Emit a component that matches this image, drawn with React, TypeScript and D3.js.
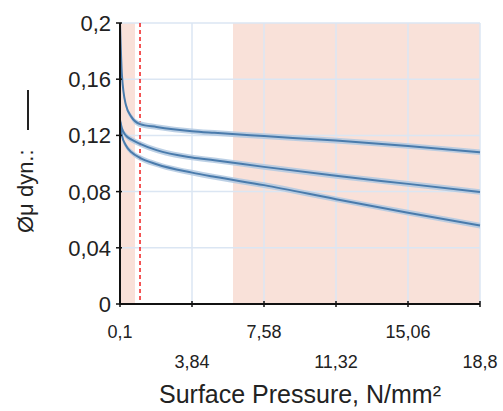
import React from "react";
import * as d3 from "d3";

const xTicks = [0.1, 3.84, 7.58, 11.32, 15.06, 18.8];
const xTickLabels = ["0,1", "3,84", "7,58", "11,32", "15,06", "18,8"];
const yTicks = [0, 0.04, 0.08, 0.12, 0.16, 0.2];
const yTickLabels = ["0", "0,04", "0,08", "0,12", "0,16", "0,2"];

const xs = [0.1, 0.2, 0.4, 0.7, 1.14, 2, 3.84, 5, 7.58, 11.32, 15.06, 18.8];
const seriesTop = [0.2, 0.163, 0.142, 0.133, 0.128, 0.126, 0.123, 0.1218, 0.1195, 0.1163, 0.1125, 0.108];
const seriesMid = [0.131, 0.125, 0.12, 0.117, 0.114, 0.1095, 0.1043, 0.1023, 0.0976, 0.0912, 0.0855, 0.0797];
const seriesLow = [0.13, 0.12, 0.113, 0.108, 0.104, 0.0995, 0.0935, 0.0905, 0.0846, 0.0746, 0.065, 0.0558];
const bandHalf = 0.002;

const pinkRegions: [number, number][] = [[0.1, 0.88], [5.97, 18.8]];
const redLineX = 1.14;

const xTitle = "Surface Pressure, N/mm²";
const yTitle = "Øμ dyn.:";

export default function App() {
  const W = 503, H = 411;
  const x = d3.scaleLinear().domain([0.1, 18.8]).range([120, 480]);
  const y = d3.scaleLinear().domain([0, 0.2]).range([304, 23]);
  const font = "Liberation Sans, Arial, sans-serif";

  const line = d3.line<[number, number]>().x(d => x(d[0])).y(d => y(d[1])).curve(d3.curveMonotoneX);
  const area = d3.area<[number, number]>().x(d => x(d[0])).y0(d => y(d[1] - bandHalf)).y1(d => y(d[1] + bandHalf)).curve(d3.curveMonotoneX);
  const all = [seriesTop, seriesMid, seriesLow];

  return (
    <svg width={W} height={H} style={{ position: "absolute", left: 0, top: 0 }} fontFamily={font}>
      <rect width={W} height={H} fill="#fff" />
      {pinkRegions.map(([a, b], i) => (
        <rect key={i} x={x(a)} y={y(0.2)} width={x(b) - x(a)} height={y(0) - y(0.2)} fill="#f9e1d9" />
      ))}
      {xTicks.map((t, i) => (
        <line key={"gx" + i} x1={x(t)} x2={x(t)} y1={y(0)} y2={y(0.2)} stroke="#dbe6f3" strokeWidth={1.5} />
      ))}
      {yTicks.map((t, i) => (
        <line key={"gy" + i} x1={x(0.1)} x2={x(18.8)} y1={y(t)} y2={y(t)} stroke="#dbe6f3" strokeWidth={1.5} />
      ))}
      <line x1={x(redLineX)} x2={x(redLineX)} y1={y(0.2)} y2={y(0)} stroke="#f02020" strokeWidth={1.5} strokeDasharray="4,3" />
      {all.map((s, i) => {
        const pts = xs.map((v, j) => [v, s[j]] as [number, number]);
        return (
          <g key={"s" + i}>
            <path d={area(pts) || ""} fill="#b0c8e1" opacity={0.85} />
            <path d={line(pts) || ""} fill="none" stroke="#4a7bac" strokeWidth={2} />
          </g>
        );
      })}
      <line x1={x(0.1)} x2={x(0.1)} y1={y(0.2)} y2={y(0) + 1} stroke="#111" strokeWidth={2} />
      <line x1={x(0.1) - 1} x2={x(18.8)} y1={y(0)} y2={y(0)} stroke="#111" strokeWidth={2} />
      {yTicks.map((t, i) => (
        <g key={"yt" + i}>
          <line x1={x(0.1) - 4} x2={x(0.1) + 2} y1={y(t)} y2={y(t)} stroke="#111" strokeWidth={1.5} />
          <text x={x(0.1) - 9} y={y(t)} dy="0.36em" textAnchor="end" fontSize={22} fill="#222">{yTickLabels[i]}</text>
        </g>
      ))}
      {xTicks.map((t, i) => (
        <g key={"xt" + i}>
          <line x1={x(t)} x2={x(t)} y1={y(0) - 3} y2={y(0) + 3} stroke="#111" strokeWidth={1.5} />
          <text x={x(t)} y={i % 2 === 0 ? 338 : 368} textAnchor="middle" fontSize={18} fill="#222">{xTickLabels[i]}</text>
        </g>
      ))}
      <text x={300} y={403} textAnchor="middle" fontSize={25} fill="#222">{xTitle}</text>
      <text transform={`translate(33,233) rotate(-90)`} textAnchor="start" fontSize={22} fill="#222">{yTitle}</text>
      <line x1={28} x2={28} y1={90} y2={130} stroke="#222" strokeWidth={2} />
    </svg>
  );
}
